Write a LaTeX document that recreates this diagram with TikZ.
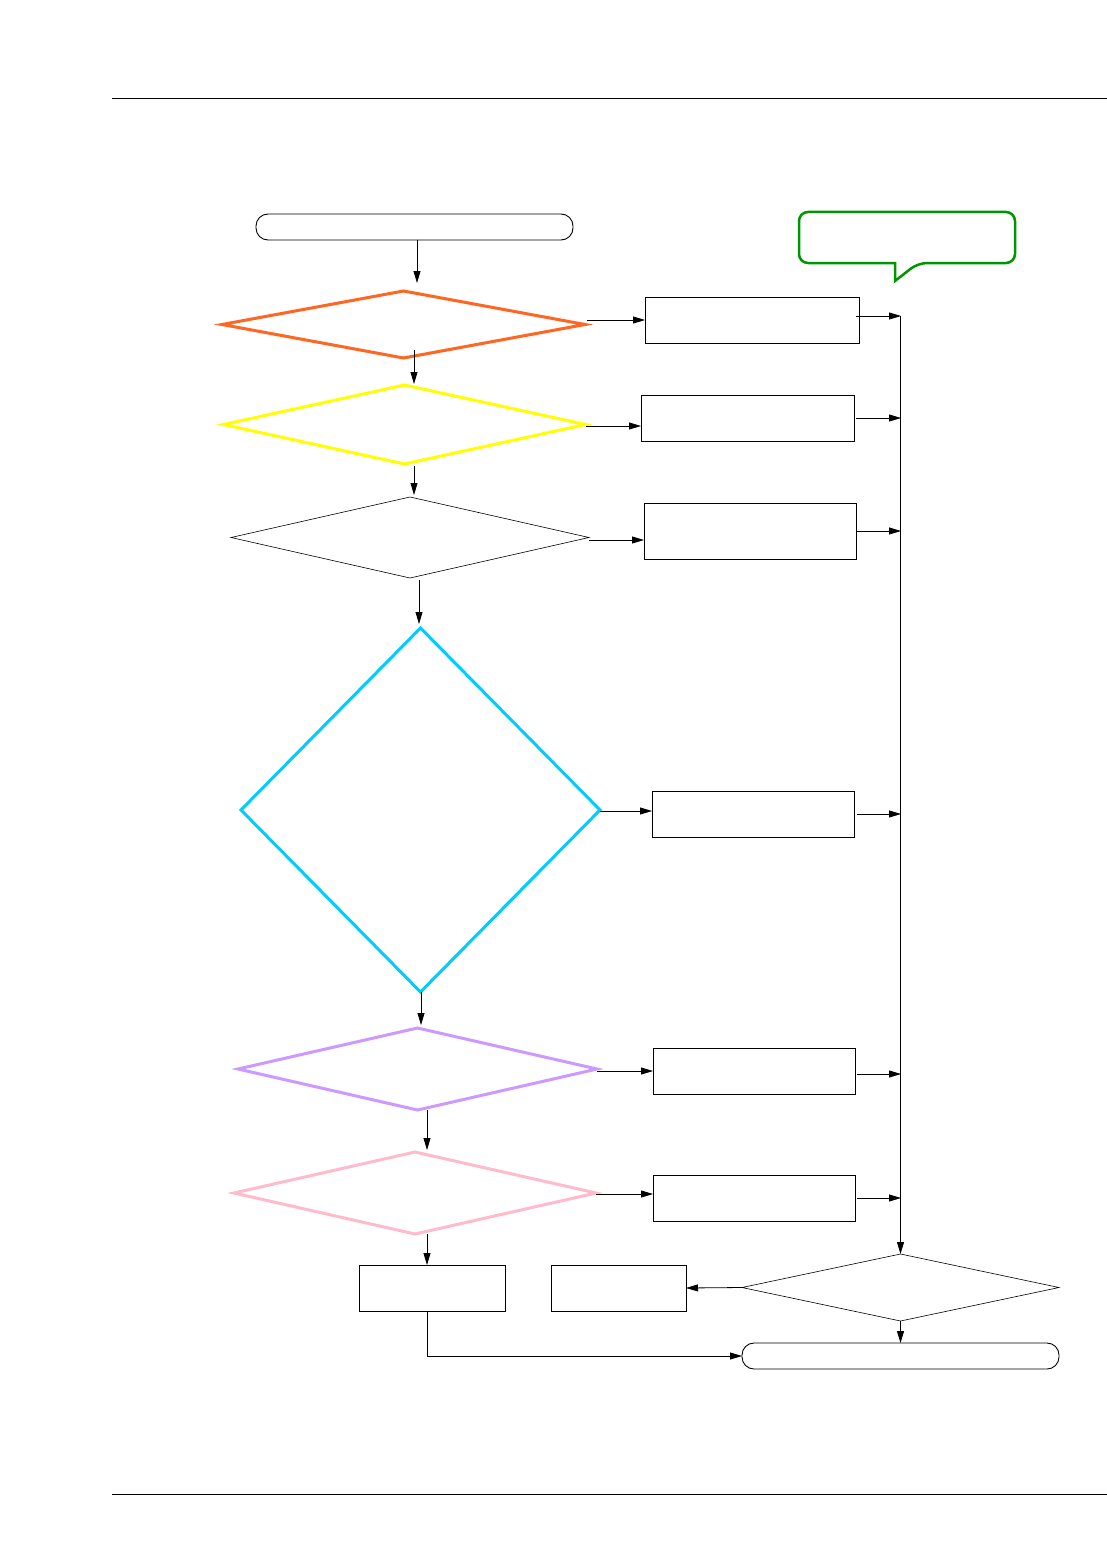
\documentclass[tikz,border=0pt]{standalone}
\usetikzlibrary{arrows.meta,shapes.geometric}
\definecolor{cOrange}{RGB}{255,102,34}
\definecolor{cYellow}{RGB}{255,255,0}
\definecolor{cCyan}{RGB}{0,204,255}
\definecolor{cPurple}{RGB}{204,153,255}
\definecolor{cPink}{RGB}{255,187,204}
\definecolor{cGreen}{RGB}{0,150,0}
\tikzset{
  arr/.style={draw=black,line width=0.8pt,-{Triangle[length=12pt,width=7pt]}},
  boxnode/.style={draw=black,line width=0.9pt,rectangle,inner sep=0pt,outer sep=0pt},
  termnode/.style={draw=black,line width=0.9pt,rectangle,rounded corners=12pt,inner sep=0pt,outer sep=0pt,minimum height=26pt},
  dia/.style={diamond,inner sep=0pt,outer sep=0pt},
  rulestyle/.style={draw=black,line width=1pt},
}
\begin{document}
\begin{tikzpicture}[x=1pt,y=-1pt]
\useasboundingbox[fill=white] (0,0) rectangle (1107,1554);
% page rules
\draw[rulestyle] (112,99) -- (1107,99);
\draw[rulestyle] (112,1494) -- (1107,1494);

% terminals
\node[termnode,minimum width=317pt] (start) at (414.5,227) {};
\node[termnode,minimum width=317pt] (end) at (900.5,1356) {};

% decisions
\node[dia,draw=cOrange,line width=3pt,minimum width=363pt,minimum height=67pt] (d1) at (403.5,324.5) {};
\node[dia,draw=cYellow,line width=3pt,minimum width=362pt,minimum height=79pt] (d2) at (404.5,424.5) {};
\node[dia,draw=black,line width=0.6pt,minimum width=358pt,minimum height=81pt] (d3) at (410,537.5) {};
\node[dia,draw=cCyan,line width=3pt,minimum width=359pt,minimum height=364pt] (d4) at (420.5,810) {};
\node[dia,draw=cPurple,line width=3pt,minimum width=359pt,minimum height=82pt] (d5) at (417.5,1069) {};
\node[dia,draw=cPink,line width=3pt,minimum width=362pt,minimum height=82pt] (d6) at (415,1193) {};
\node[dia,draw=black,line width=0.6pt,minimum width=317pt,minimum height=67pt] (d7) at (900.5,1287.5) {};

% process boxes
\node[boxnode,minimum width=214pt,minimum height=46pt] (r1) at (752,320) {};
\node[boxnode,minimum width=213pt,minimum height=46pt] (r2) at (747.5,418) {};
\node[boxnode,minimum width=212pt,minimum height=56pt] (r3) at (750,531) {};
\node[boxnode,minimum width=202pt,minimum height=46pt] (r4) at (753,814) {};
\node[boxnode,minimum width=202pt,minimum height=46pt] (r5) at (754,1071) {};
\node[boxnode,minimum width=202pt,minimum height=46pt] (r6) at (754,1198) {};
\node[boxnode,minimum width=146pt,minimum height=46pt] (b1) at (432,1288) {};
\node[boxnode,minimum width=135pt,minimum height=46pt] (b2) at (618.5,1288) {};

% columns for vertical connectors
\coordinate (c0) at (417,0);
\coordinate (c1) at (414,0);
\coordinate (c2) at (414,0);
\coordinate (c3) at (419,0);
\coordinate (c4) at (421,0);
\coordinate (c5) at (427,0);
\coordinate (c6) at (427,0);
\coordinate (bus) at (901,0);

% main vertical flow (yshift is in page-up direction)
\draw[arr] (start.south -| c0) -- ([yshift=8pt]d1.north -| c0);
\draw[arr] ([yshift=8pt]d1.south -| c1) -- ([yshift=1pt]d2.north -| c1);
\draw[arr] ([yshift=-2pt]d2.south -| c2) -- ([yshift=2pt]d3.north -| c2);
\draw[arr] ([yshift=-2pt]d3.south -| c3) -- ([yshift=4pt]d4.north -| c3);
\draw[arr] (d4.south -| c4) -- ([yshift=3pt]d5.north -| c4);
\draw[arr] (d5.south -| c5) -- ([yshift=2pt]d6.north -| c5);
\draw[arr] (d6.south -| c6) -- (b1.north -| c6);
\draw[arr] (b1.south -| c6) |- (end.west);

% branches to the right
\draw[arr] ([xshift=2pt]r1.west -| d1.east) -- (r1.west);
\draw[arr] ([yshift=-8pt]r2.west -| d2.east) -- ([yshift=-8pt]r2.west);
\draw[arr] ([yshift=-9pt]r3.west -| d3.east) -- ([yshift=-9pt]r3.west);
\draw[arr] ([yshift=3pt]r4.west -| d4.east) -- ([yshift=3pt]r4.west);
\draw[arr] (r5.west -| d5.east) -- (r5.west);
\draw[arr] ([yshift=4pt]r6.west -| d6.east) -- ([yshift=4pt]r6.west);

% outputs into the collecting line
\draw[arr] ([xshift=-3pt,yshift=4pt]r1.east) -- ([yshift=4pt]r1.east -| bus);
\draw[arr] ([xshift=2pt]r2.east) -- (r2.east -| bus);
\draw[arr] ([xshift=1pt]r3.east) -- (r3.east -| bus);
\draw[arr] ([xshift=3pt]r4.east) -- (r4.east -| bus);
\draw[arr] ([xshift=2pt,yshift=-3pt]r5.east) -- ([yshift=-3pt]r5.east -| bus);
\draw[arr] ([xshift=2pt]r6.east) -- (r6.east -| bus);

% collecting line
\draw[arr] ([yshift=4pt]r1.east -| d7.north) -- (d7.north);
\draw[arr] (d7.west) -- (b2.east);
\draw[arr] (d7.south) -- (end.north);

% callout
\draw[draw=cGreen,line width=2.5pt,line join=miter]
  (900,212) [rounded corners=9pt] -- (1015,212) -- (1015,263) -- (918,263)
  [sharp corners] -- (895,281) -- (895,263)
  [rounded corners=9pt] -- (799,263) -- (799,212) -- (900,212);
\end{tikzpicture}
\end{document}
